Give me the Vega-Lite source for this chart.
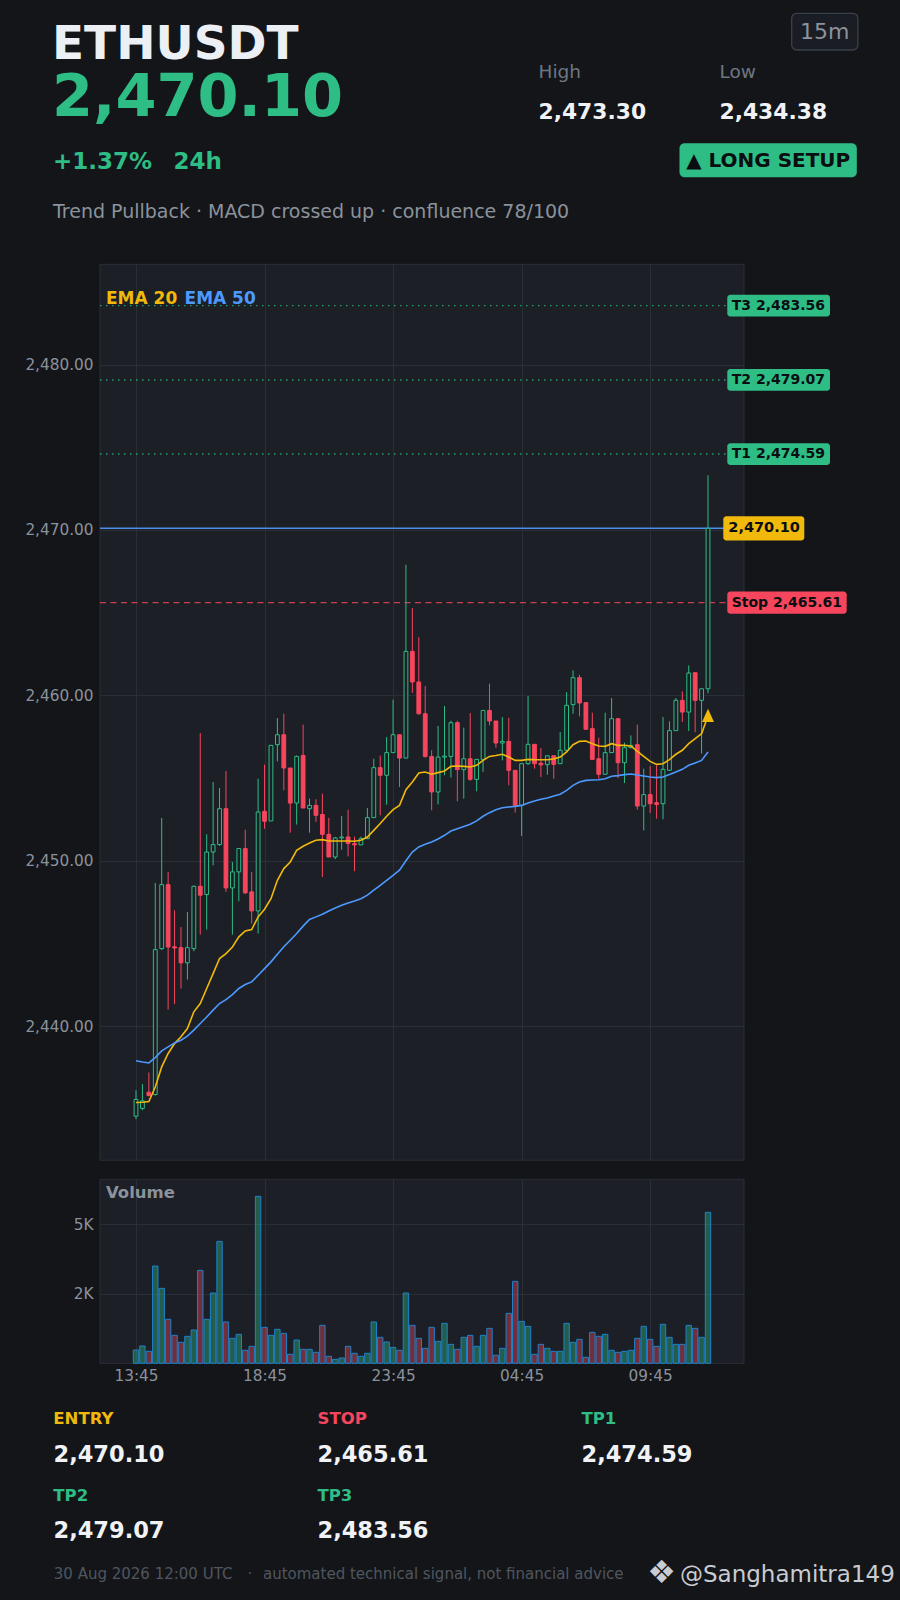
{
  "$schema": "https://vega.github.io/schema/vega-lite/v6.json",
  "description": "ETHUSDT 15m long setup card",
  "width": 900,
  "height": 1600,
  "autosize": {"type": "none"},
  "padding": 0,
  "background": "#131519",
  "config": {
    "view": {"stroke": null},
    "axis": {"labelFont": "DejaVu Sans"},
    "text": {"font": "DejaVu Sans", "baseline": "alphabetic", "align": "left"}
  },
  "datasets": {
    "candles": [
      {"i":0,"open":2434.56,"high":2436.13,"low":2434.38,"close":2435.57,"volume":478,"ema20":2435.39,"ema50":2437.91},
      {"i":1,"open":2435.03,"high":2436.50,"low":2434.92,"close":2435.49,"volume":622,"ema20":2435.40,"ema50":2437.84},
      {"i":2,"open":2436.01,"high":2437.20,"low":2435.75,"close":2435.81,"volume":430,"ema20":2435.45,"ema50":2437.78},
      {"i":3,"open":2435.87,"high":2448.66,"low":2435.80,"close":2444.63,"volume":3500,"ema20":2436.32,"ema50":2438.10},
      {"i":4,"open":2444.69,"high":2452.59,"low":2444.60,"close":2448.56,"volume":2697,"ema20":2437.54,"ema50":2438.51},
      {"i":5,"open":2448.56,"high":2449.33,"low":2441.01,"close":2444.79,"volume":1582,"ema20":2438.35,"ema50":2438.75},
      {"i":6,"open":2444.80,"high":2447.01,"low":2441.33,"close":2444.73,"volume":1006,"ema20":2438.95,"ema50":2438.99},
      {"i":7,"open":2444.75,"high":2446.00,"low":2442.28,"close":2443.83,"volume":754,"ema20":2439.36,"ema50":2439.15},
      {"i":8,"open":2443.83,"high":2446.91,"low":2442.82,"close":2444.75,"volume":970,"ema20":2439.86,"ema50":2439.40},
      {"i":9,"open":2444.69,"high":2448.50,"low":2444.53,"close":2448.46,"volume":1198,"ema20":2440.87,"ema50":2439.76},
      {"i":10,"open":2448.46,"high":2457.72,"low":2445.54,"close":2447.92,"volume":3344,"ema20":2441.37,"ema50":2440.16},
      {"i":11,"open":2447.96,"high":2451.60,"low":2445.84,"close":2450.53,"volume":1582,"ema20":2442.28,"ema50":2440.56},
      {"i":12,"open":2450.53,"high":2454.76,"low":2449.73,"close":2450.98,"volume":2529,"ema20":2443.18,"ema50":2440.97},
      {"i":13,"open":2450.98,"high":2454.40,"low":2450.90,"close":2453.15,"volume":4387,"ema20":2444.09,"ema50":2441.37},
      {"i":14,"open":2453.15,"high":2455.43,"low":2448.12,"close":2448.36,"volume":1486,"ema20":2444.39,"ema50":2441.61},
      {"i":15,"open":2448.36,"high":2449.93,"low":2445.54,"close":2449.33,"volume":898,"ema20":2444.79,"ema50":2441.91},
      {"i":16,"open":2449.33,"high":2450.74,"low":2447.55,"close":2450.74,"volume":1042,"ema20":2445.40,"ema50":2442.28},
      {"i":17,"open":2450.74,"high":2451.88,"low":2448.00,"close":2448.06,"volume":467,"ema20":2445.76,"ema50":2442.52},
      {"i":18,"open":2448.12,"high":2449.33,"low":2446.20,"close":2446.97,"volume":610,"ema20":2445.84,"ema50":2442.68},
      {"i":19,"open":2446.97,"high":2454.96,"low":2445.60,"close":2452.95,"volume":6006,"ema20":2446.61,"ema50":2443.08},
      {"i":20,"open":2452.99,"high":2455.81,"low":2451.94,"close":2452.39,"volume":1294,"ema20":2447.07,"ema50":2443.48},
      {"i":21,"open":2452.41,"high":2457.00,"low":2452.41,"close":2456.98,"volume":1006,"ema20":2447.71,"ema50":2443.89},
      {"i":22,"open":2457.02,"high":2458.63,"low":2456.01,"close":2457.62,"volume":1222,"ema20":2448.82,"ema50":2444.35},
      {"i":23,"open":2457.62,"high":2458.89,"low":2454.26,"close":2455.61,"volume":1078,"ema20":2449.53,"ema50":2444.80},
      {"i":24,"open":2455.61,"high":2455.61,"low":2451.70,"close":2453.49,"volume":323,"ema20":2449.93,"ema50":2445.20},
      {"i":25,"open":2453.49,"high":2456.36,"low":2452.19,"close":2456.31,"volume":838,"ema20":2450.63,"ema50":2445.60},
      {"i":26,"open":2456.37,"high":2458.23,"low":2453.19,"close":2453.19,"volume":502,"ema20":2450.88,"ema50":2446.05},
      {"i":27,"open":2453.15,"high":2453.76,"low":2451.70,"close":2453.35,"volume":502,"ema20":2451.08,"ema50":2446.45},
      {"i":28,"open":2453.35,"high":2453.72,"low":2452.35,"close":2452.75,"volume":395,"ema20":2451.24,"ema50":2446.61},
      {"i":29,"open":2452.80,"high":2454.06,"low":2449.02,"close":2451.60,"volume":1366,"ema20":2451.28,"ema50":2446.77},
      {"i":30,"open":2451.60,"high":2452.59,"low":2450.23,"close":2450.23,"volume":251,"ema20":2451.20,"ema50":2446.97},
      {"i":31,"open":2450.23,"high":2451.44,"low":2450.10,"close":2451.38,"volume":143,"ema20":2451.20,"ema50":2447.15},
      {"i":32,"open":2451.38,"high":2452.71,"low":2450.67,"close":2451.44,"volume":191,"ema20":2451.20,"ema50":2447.31},
      {"i":33,"open":2451.44,"high":2453.09,"low":2450.27,"close":2451.04,"volume":610,"ema20":2451.20,"ema50":2447.45},
      {"i":34,"open":2451.04,"high":2451.46,"low":2449.37,"close":2450.96,"volume":359,"ema20":2451.18,"ema50":2447.57},
      {"i":35,"open":2450.96,"high":2451.46,"low":2450.96,"close":2451.34,"volume":251,"ema20":2451.24,"ema50":2447.71},
      {"i":36,"open":2451.34,"high":2453.19,"low":2451.34,"close":2452.61,"volume":359,"ema20":2451.44,"ema50":2447.92},
      {"i":37,"open":2452.61,"high":2456.17,"low":2452.61,"close":2455.63,"volume":1486,"ema20":2451.84,"ema50":2448.22},
      {"i":38,"open":2455.63,"high":2456.36,"low":2452.75,"close":2455.17,"volume":934,"ema20":2452.25,"ema50":2448.52},
      {"i":39,"open":2455.17,"high":2457.48,"low":2453.39,"close":2456.54,"volume":766,"ema20":2452.69,"ema50":2448.82},
      {"i":40,"open":2456.54,"high":2459.74,"low":2456.54,"close":2457.62,"volume":574,"ema20":2453.09,"ema50":2449.12},
      {"i":41,"open":2457.62,"high":2457.62,"low":2454.46,"close":2456.21,"volume":467,"ema20":2453.35,"ema50":2449.43},
      {"i":42,"open":2456.21,"high":2467.90,"low":2456.21,"close":2462.66,"volume":2529,"ema20":2454.30,"ema50":2450.00},
      {"i":43,"open":2462.66,"high":2465.28,"low":2460.16,"close":2460.81,"volume":1366,"ema20":2454.76,"ema50":2450.53},
      {"i":44,"open":2460.81,"high":2463.52,"low":2458.83,"close":2458.89,"volume":898,"ema20":2455.31,"ema50":2450.84},
      {"i":45,"open":2458.89,"high":2460.56,"low":2456.23,"close":2456.31,"volume":538,"ema20":2455.37,"ema50":2451.00},
      {"i":46,"open":2456.31,"high":2456.68,"low":2453.05,"close":2454.16,"volume":1294,"ema20":2455.23,"ema50":2451.14},
      {"i":47,"open":2454.16,"high":2458.15,"low":2453.41,"close":2456.27,"volume":790,"ema20":2455.33,"ema50":2451.32},
      {"i":48,"open":2456.27,"high":2459.36,"low":2455.17,"close":2456.33,"volume":1438,"ema20":2455.43,"ema50":2451.54},
      {"i":49,"open":2456.31,"high":2458.47,"low":2455.03,"close":2458.35,"volume":682,"ema20":2455.71,"ema50":2451.80},
      {"i":50,"open":2458.35,"high":2458.47,"low":2453.60,"close":2455.51,"volume":502,"ema20":2455.73,"ema50":2451.94},
      {"i":51,"open":2455.51,"high":2458.05,"low":2453.76,"close":2456.17,"volume":934,"ema20":2455.71,"ema50":2452.08},
      {"i":52,"open":2456.17,"high":2458.93,"low":2454.84,"close":2454.92,"volume":1006,"ema20":2455.67,"ema50":2452.21},
      {"i":53,"open":2454.92,"high":2456.13,"low":2454.20,"close":2456.13,"volume":610,"ema20":2455.77,"ema50":2452.41},
      {"i":54,"open":2456.13,"high":2459.09,"low":2455.37,"close":2459.09,"volume":1006,"ema20":2456.07,"ema50":2452.69},
      {"i":55,"open":2459.09,"high":2460.71,"low":2458.19,"close":2458.45,"volume":1258,"ema20":2456.31,"ema50":2452.91},
      {"i":56,"open":2458.45,"high":2458.45,"low":2456.84,"close":2457.12,"volume":287,"ema20":2456.37,"ema50":2453.09},
      {"i":57,"open":2457.12,"high":2458.69,"low":2456.07,"close":2457.22,"volume":538,"ema20":2456.44,"ema50":2453.21},
      {"i":58,"open":2457.22,"high":2458.65,"low":2454.56,"close":2455.47,"volume":1797,"ema20":2456.27,"ema50":2453.25},
      {"i":59,"open":2455.47,"high":2455.47,"low":2452.91,"close":2453.35,"volume":2949,"ema20":2456.07,"ema50":2453.29},
      {"i":60,"open":2453.35,"high":2455.87,"low":2451.50,"close":2455.87,"volume":1510,"ema20":2456.07,"ema50":2453.35},
      {"i":61,"open":2455.87,"high":2459.96,"low":2455.80,"close":2457.04,"volume":1330,"ema20":2456.13,"ema50":2453.49},
      {"i":62,"open":2457.04,"high":2457.04,"low":2455.57,"close":2455.87,"volume":323,"ema20":2456.11,"ema50":2453.62},
      {"i":63,"open":2455.90,"high":2456.82,"low":2455.06,"close":2455.80,"volume":682,"ema20":2456.11,"ema50":2453.72},
      {"i":64,"open":2455.81,"high":2456.35,"low":2455.20,"close":2456.35,"volume":538,"ema20":2456.11,"ema50":2453.80},
      {"i":65,"open":2456.35,"high":2456.35,"low":2454.96,"close":2455.83,"volume":430,"ema20":2456.15,"ema50":2453.92},
      {"i":66,"open":2455.87,"high":2457.78,"low":2455.87,"close":2456.68,"volume":430,"ema20":2456.27,"ema50":2454.02},
      {"i":67,"open":2456.68,"high":2460.20,"low":2456.60,"close":2459.40,"volume":1438,"ema20":2456.58,"ema50":2454.26},
      {"i":68,"open":2459.44,"high":2461.51,"low":2458.89,"close":2461.07,"volume":754,"ema20":2457.02,"ema50":2454.56},
      {"i":69,"open":2461.07,"high":2461.25,"low":2458.73,"close":2459.54,"volume":862,"ema20":2457.22,"ema50":2454.76},
      {"i":70,"open":2459.56,"high":2459.56,"low":2457.95,"close":2457.95,"volume":215,"ema20":2457.24,"ema50":2454.86},
      {"i":71,"open":2457.99,"high":2458.95,"low":2456.13,"close":2456.13,"volume":1114,"ema20":2457.08,"ema50":2454.88},
      {"i":72,"open":2456.17,"high":2457.44,"low":2454.96,"close":2455.23,"volume":970,"ema20":2456.94,"ema50":2454.90},
      {"i":73,"open":2455.23,"high":2458.95,"low":2455.23,"close":2456.54,"volume":1042,"ema20":2456.92,"ema50":2454.96},
      {"i":74,"open":2456.54,"high":2459.84,"low":2456.54,"close":2458.59,"volume":467,"ema20":2457.08,"ema50":2455.11},
      {"i":75,"open":2458.59,"high":2458.59,"low":2455.00,"close":2455.93,"volume":395,"ema20":2456.98,"ema50":2455.15},
      {"i":76,"open":2455.93,"high":2457.14,"low":2454.70,"close":2456.84,"volume":430,"ema20":2456.98,"ema50":2455.21},
      {"i":77,"open":2456.84,"high":2457.58,"low":2456.80,"close":2456.98,"volume":467,"ema20":2456.94,"ema50":2455.25},
      {"i":78,"open":2457.02,"high":2458.23,"low":2453.09,"close":2453.31,"volume":898,"ema20":2456.62,"ema50":2455.19},
      {"i":79,"open":2453.31,"high":2455.57,"low":2451.84,"close":2454.00,"volume":1330,"ema20":2456.31,"ema50":2455.13},
      {"i":80,"open":2454.00,"high":2455.73,"low":2452.89,"close":2453.45,"volume":862,"ema20":2456.01,"ema50":2455.07},
      {"i":81,"open":2453.51,"high":2455.77,"low":2452.55,"close":2453.41,"volume":610,"ema20":2455.83,"ema50":2455.03},
      {"i":82,"open":2453.45,"high":2458.69,"low":2452.51,"close":2455.53,"volume":1402,"ema20":2455.87,"ema50":2455.07},
      {"i":83,"open":2455.47,"high":2458.43,"low":2455.47,"close":2457.87,"volume":934,"ema20":2456.11,"ema50":2455.21},
      {"i":84,"open":2457.87,"high":2459.84,"low":2457.87,"close":2459.70,"volume":682,"ema20":2456.44,"ema50":2455.37},
      {"i":85,"open":2459.70,"high":2460.24,"low":2458.39,"close":2458.99,"volume":682,"ema20":2456.68,"ema50":2455.53},
      {"i":86,"open":2458.99,"high":2461.81,"low":2457.85,"close":2461.35,"volume":1366,"ema20":2457.08,"ema50":2455.77},
      {"i":87,"open":2461.37,"high":2461.37,"low":2457.78,"close":2459.70,"volume":1258,"ema20":2457.38,"ema50":2455.91},
      {"i":88,"open":2459.70,"high":2460.40,"low":2456.48,"close":2460.40,"volume":934,"ema20":2457.68,"ema50":2456.07},
      {"i":89,"open":2460.40,"high":2473.30,"low":2460.13,"close":2470.10,"volume":5431,"ema20":2458.77,"ema50":2456.58}
    ],
    "levels": [
      {"name": "T3", "price": 2483.56, "label": "T3 2,483.56"},
      {"name": "T2", "price": 2479.07, "label": "T2 2,479.07"},
      {"name": "T1", "price": 2474.59, "label": "T1 2,474.59"},
      {"name": "Entry", "price": 2470.10, "label": "2,470.10"},
      {"name": "Stop", "price": 2465.61, "label": "Stop 2,465.61"}
    ],
    "signal": [
      {"i": 89, "price": 2458.79}
    ]
  },
  "layer": [
    {
      "data": {"name": "candles"},
      "layer": [
        {
          "data": {"values": [{}]},
          "mark": {"type": "rect", "fill": "#252933", "fillOpacity": 0.5, "stroke": "#2b2f38", "strokeWidth": 1},
          "encoding": {
            "x": {
              "datum": -5.6, "type": "quantitative",
              "scale": {"domain": [-5.6, 94.6], "range": [100, 744], "nice": false, "zero": false, "padding": 0},
              "axis": {"orient": "top", "values": [0, 20, 40, 60, 80], "grid": true, "gridColor": "#2f333b", "labels": false, "ticks": false, "tickSize": 0, "domain": false, "title": null}
            },
            "x2": {"datum": 94.6},
            "y": {
              "datum": 2431.9, "type": "quantitative",
              "scale": {"domain": [2431.9, 2486.06], "range": [1160.2, 264.3], "nice": false, "zero": false, "padding": 0},
              "axis": {"orient": "left", "offset": -100, "values": [2440, 2450, 2460, 2470, 2480], "format": ",.2f", "grid": true, "gridColor": "#2f333b", "ticks": false, "tickSize": 0, "domain": false, "labelColor": "#8b929c", "labelFontSize": 15.3, "labelPadding": 7, "title": null}
            },
            "y2": {"datum": 2486.06}
          }
        },
        {
          "data": {"name": "levels"},
          "transform": [{"filter": {"field": "name", "oneOf": ["T1", "T2", "T3"]}}],
          "mark": {"type": "rule", "stroke": "#2ebd85", "strokeWidth": 1.4, "strokeDash": [1.5, 4.5], "opacity": 0.8},
          "encoding": {
            "x": {"datum": -5.6, "type": "quantitative"},
            "x2": {"datum": 94.6},
            "y": {"field": "price", "type": "quantitative"}
          }
        },
        {
          "data": {"name": "levels"},
          "transform": [{"filter": {"field": "name", "equal": "Entry"}}],
          "mark": {"type": "rule", "stroke": "#4c8ee8", "strokeWidth": 1.4},
          "encoding": {
            "x": {"datum": -5.6, "type": "quantitative"},
            "x2": {"datum": 94.6},
            "y": {"field": "price", "type": "quantitative"}
          }
        },
        {
          "data": {"name": "levels"},
          "transform": [{"filter": {"field": "name", "equal": "Stop"}}],
          "mark": {"type": "rule", "stroke": "#f6465d", "strokeWidth": 1.4, "strokeDash": [6, 4.5], "opacity": 0.8},
          "encoding": {
            "x": {"datum": -5.6, "type": "quantitative"},
            "x2": {"datum": 94.6},
            "y": {"field": "price", "type": "quantitative"}
          }
        },
        {
          "mark": {"type": "rule", "strokeWidth": 1},
          "encoding": {
            "x": {"field": "i", "type": "quantitative"},
            "y": {"field": "low", "type": "quantitative"},
            "y2": {"field": "high"},
            "stroke": {"condition": {"test": "datum.close >= datum.open", "value": "#2ebd85"}, "value": "#f6465d"}
          }
        },
        {
          "mark": {"type": "bar", "width": 3.8, "strokeWidth": 1},
          "encoding": {
            "x": {"field": "i", "type": "quantitative"},
            "y": {"field": "open", "type": "quantitative"},
            "y2": {"field": "close"},
            "fill": {"condition": {"test": "datum.close >= datum.open", "value": "#1c1f26"}, "value": "#f6465d"},
            "stroke": {"condition": {"test": "datum.close >= datum.open", "value": "#2ebd85"}, "value": "#f6465d"}
          }
        },
        {
          "mark": {"type": "line", "stroke": "#f0b90b", "strokeWidth": 1.6},
          "encoding": {
            "x": {"field": "i", "type": "quantitative"},
            "y": {"field": "ema20", "type": "quantitative"}
          }
        },
        {
          "mark": {"type": "line", "stroke": "#4c9aff", "strokeWidth": 1.6},
          "encoding": {
            "x": {"field": "i", "type": "quantitative"},
            "y": {"field": "ema50", "type": "quantitative"}
          }
        },
        {
          "data": {"name": "signal"},
          "mark": {"type": "point", "shape": "M0,-1L0.9,1L-0.9,1Z", "size": 177, "filled": true, "fill": "#f0b90b", "opacity": 1, "strokeWidth": 0},
          "encoding": {
            "x": {"field": "i", "type": "quantitative"},
            "y": {"field": "price", "type": "quantitative"}
          }
        },
        {
          "data": {"name": "levels"},
          "transform": [{"filter": {"field": "name", "oneOf": ["T1", "T2", "T3"]}}],
          "mark": {"type": "bar", "orient": "horizontal", "height": 21.7, "cornerRadius": 3, "fill": "#2ebd85"},
          "encoding": {
            "x": {"datum": 92.0, "type": "quantitative"},
            "x2": {"datum": 107.98},
            "y": {"field": "price", "type": "quantitative"}
          }
        },
        {
          "data": {"name": "levels"},
          "transform": [{"filter": {"field": "name", "equal": "Entry"}}],
          "mark": {"type": "bar", "orient": "horizontal", "height": 24.3, "cornerRadius": 3, "fill": "#f0b90b"},
          "encoding": {
            "x": {"datum": 91.38, "type": "quantitative"},
            "x2": {"datum": 103.98},
            "y": {"field": "price", "type": "quantitative"}
          }
        },
        {
          "data": {"name": "levels"},
          "transform": [{"filter": {"field": "name", "equal": "Stop"}}],
          "mark": {"type": "bar", "orient": "horizontal", "height": 22.3, "cornerRadius": 3, "fill": "#f6465d"},
          "encoding": {
            "x": {"datum": 92.0, "type": "quantitative"},
            "x2": {"datum": 110.58},
            "y": {"field": "price", "type": "quantitative"}
          }
        },
        {
          "data": {"name": "levels"},
          "transform": [{"filter": {"field": "name", "oneOf": ["T1", "T2", "T3", "Stop"]}}],
          "mark": {"type": "text", "baseline": "middle", "align": "left", "fontSize": 14, "fontWeight": "bold", "fill": "#0b0e11"},
          "encoding": {
            "x": {"datum": 92.69, "type": "quantitative"},
            "y": {"field": "price", "type": "quantitative"},
            "text": {"field": "label"}
          }
        },
        {
          "data": {"name": "levels"},
          "transform": [{"filter": {"field": "name", "equal": "Entry"}}],
          "mark": {"type": "text", "baseline": "middle", "align": "left", "fontSize": 14.5, "fontWeight": "bold", "fill": "#0b0e11"},
          "encoding": {
            "x": {"datum": 92.16, "type": "quantitative"},
            "y": {"field": "price", "type": "quantitative"},
            "text": {"field": "label"}
          }
        },
        {
          "data": {"values": [{}]},
          "mark": {"type": "text", "text": "EMA 20", "fontSize": 17, "fontWeight": "bold", "fill": "#f0b90b"},
          "encoding": {
            "x": {"datum": -4.67, "type": "quantitative"},
            "y": {"datum": 2483.65, "type": "quantitative"}
          }
        },
        {
          "data": {"values": [{}]},
          "mark": {"type": "text", "text": "EMA 50", "fontSize": 17, "fontWeight": "bold", "fill": "#4c9aff"},
          "encoding": {
            "x": {"datum": 7.55, "type": "quantitative"},
            "y": {"datum": 2483.65, "type": "quantitative"}
          }
        }
      ]
    },
    {
      "data": {"name": "candles"},
      "layer": [
        {
          "data": {"values": [{}]},
          "mark": {"type": "rect", "fill": "#252933", "fillOpacity": 0.5, "stroke": "#2b2f38", "strokeWidth": 1},
          "encoding": {
            "x": {
              "datum": -5.6, "type": "quantitative",
              "scale": {"domain": [-5.6, 94.6], "range": [100, 744], "nice": false, "zero": false, "padding": 0},
              "axis": {"orient": "top", "offset": -1363.3, "values": [0, 20, 40, 60, 80], "labelExpr": "['13:45','18:45','23:45','04:45','09:45'][round(datum.value / 20)]", "labelBaseline": "middle", "labelPadding": -12.2, "labelColor": "#8b929c", "labelFontSize": 15.3, "grid": true, "gridColor": "#2f333b", "ticks": false, "tickSize": 0, "domain": false, "title": null}
            },
            "x2": {"datum": 94.6},
            "y": {
              "datum": 0, "type": "quantitative",
              "scale": {"domain": [0, 6620], "range": [1363.3, 1179.3], "nice": false, "zero": false, "padding": 0},
              "axis": {"orient": "left", "offset": -100, "values": [2500, 5000], "labelExpr": "floor(datum.value / 1000) + 'K'", "grid": true, "gridColor": "#2f333b", "ticks": false, "tickSize": 0, "domain": false, "labelColor": "#8b929c", "labelFontSize": 15.3, "labelPadding": 7, "title": null}
            },
            "y2": {"datum": 6620}
          }
        },
        {
          "mark": {"type": "bar", "width": 5.4, "fillOpacity": 0.4, "stroke": "#1e82cc", "strokeWidth": 1},
          "encoding": {
            "x": {"field": "i", "type": "quantitative"},
            "y": {"field": "volume", "type": "quantitative"},
            "fill": {"condition": {"test": "datum.close >= datum.open", "value": "#2ebd85"}, "value": "#f6465d"}
          }
        },
        {
          "data": {"values": [{}]},
          "mark": {"type": "text", "text": "Volume", "fontSize": 16.5, "fontWeight": "bold", "fill": "#8b929c"},
          "encoding": {
            "x": {"datum": -4.67, "type": "quantitative"},
            "y": {"datum": 5946, "type": "quantitative"}
          }
        }
      ]
    },
    {
      "data": {"values": [{}]},
      "layer": [
        {"mark": {"type": "text", "text": "ETHUSDT", "x": 52, "y": 59.3, "fontSize": 47, "fontWeight": "bold", "fill": "#eceff3"}},
        {"mark": {"type": "text", "text": "2,470.10", "x": 52, "y": 116, "fontSize": 59, "fontWeight": "bold", "fill": "#2ebd85"}},
        {"mark": {"type": "text", "text": "+1.37%", "x": 53, "y": 169.3, "fontSize": 23, "fontWeight": "bold", "fill": "#2ebd85"}},
        {"mark": {"type": "text", "text": "24h", "x": 173.5, "y": 169.3, "fontSize": 23, "fontWeight": "bold", "fill": "#2ebd85"}},
        {"mark": {"type": "text", "text": "Trend Pullback · MACD crossed up · confluence 78/100", "x": 53, "y": 217.5, "fontSize": 19, "fill": "#8b929c"}},
        {"mark": {"type": "text", "text": "High", "x": 538.5, "y": 78.3, "fontSize": 18.5, "fill": "#6e7681"}},
        {"mark": {"type": "text", "text": "Low", "x": 719.5, "y": 78.3, "fontSize": 18.5, "fill": "#6e7681"}},
        {"mark": {"type": "text", "text": "2,473.30", "x": 538.5, "y": 119, "fontSize": 21.8, "fontWeight": "bold", "fill": "#f0f2f5"}},
        {"mark": {"type": "text", "text": "2,434.38", "x": 719.5, "y": 119, "fontSize": 21.8, "fontWeight": "bold", "fill": "#f0f2f5"}},
        {"mark": {"type": "rect", "x": 791.7, "x2": 857.9, "y": 13.3, "y2": 50, "cornerRadius": 5, "fill": "#1a1d24", "stroke": "#3a404b", "strokeWidth": 1.3}},
        {"mark": {"type": "text", "text": "15m", "x": 824.8, "y": 38.8, "align": "center", "fontSize": 22, "fill": "#8b929c"}},
        {"mark": {"type": "rect", "x": 679.5, "x2": 856.8, "y": 143.3, "y2": 177.3, "cornerRadius": 5, "fill": "#2ebd85"}},
        {"mark": {"type": "text", "text": "▲ LONG SETUP", "x": 768.2, "y": 167.3, "align": "center", "fontSize": 20, "fontWeight": "bold", "fill": "#0b0e11"}},
        {"mark": {"type": "text", "text": "ENTRY", "x": 53.3, "y": 1424.3, "fontSize": 16.5, "fontWeight": "bold", "fill": "#f0b90b"}},
        {"mark": {"type": "text", "text": "STOP", "x": 317.5, "y": 1424.3, "fontSize": 16.5, "fontWeight": "bold", "fill": "#f6465d"}},
        {"mark": {"type": "text", "text": "TP1", "x": 581.5, "y": 1424.3, "fontSize": 16.5, "fontWeight": "bold", "fill": "#2ebd85"}},
        {"mark": {"type": "text", "text": "2,470.10", "x": 53.5, "y": 1461.7, "fontSize": 22.5, "fontWeight": "bold", "fill": "#f0f2f5"}},
        {"mark": {"type": "text", "text": "2,465.61", "x": 317.5, "y": 1461.7, "fontSize": 22.5, "fontWeight": "bold", "fill": "#f0f2f5"}},
        {"mark": {"type": "text", "text": "2,474.59", "x": 581.5, "y": 1461.7, "fontSize": 22.5, "fontWeight": "bold", "fill": "#f0f2f5"}},
        {"mark": {"type": "text", "text": "TP2", "x": 53.3, "y": 1501, "fontSize": 16.5, "fontWeight": "bold", "fill": "#2ebd85"}},
        {"mark": {"type": "text", "text": "TP3", "x": 317.5, "y": 1501, "fontSize": 16.5, "fontWeight": "bold", "fill": "#2ebd85"}},
        {"mark": {"type": "text", "text": "2,479.07", "x": 53.5, "y": 1538.3, "fontSize": 22.5, "fontWeight": "bold", "fill": "#f0f2f5"}},
        {"mark": {"type": "text", "text": "2,483.56", "x": 317.5, "y": 1538.3, "fontSize": 22.5, "fontWeight": "bold", "fill": "#f0f2f5"}},
        {"mark": {"type": "text", "text": "30 Aug 2026 12:00 UTC", "x": 53.8, "y": 1579.3, "fontSize": 15, "fill": "#50565f"}},
        {"mark": {"type": "text", "text": "·", "x": 250, "y": 1579.3, "align": "center", "fontSize": 15, "fill": "#50565f"}},
        {"mark": {"type": "text", "text": "automated technical signal, not financial advice", "x": 263, "y": 1579.3, "fontSize": 15, "fill": "#50565f"}},
        {"mark": {"type": "text", "text": "❖", "x": 661.5, "y": 1573.3, "align": "center", "baseline": "middle", "fontSize": 32, "fill": "#c9ccd1"}},
        {"mark": {"type": "text", "text": "@Sanghamitra149", "x": 680, "y": 1581.7, "fontSize": 23, "fill": "#c9ccd1"}}
      ]
    }
  ],
  "resolve": {
    "scale": {"x": "independent", "y": "independent"},
    "axis": {"x": "independent", "y": "independent"}
  }
}
